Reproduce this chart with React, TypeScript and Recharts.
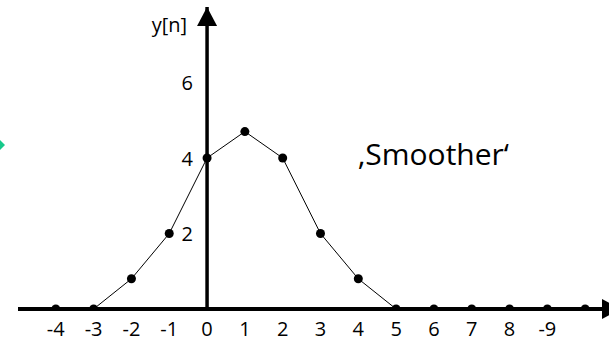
import {
  LineChart,
  Line,
  XAxis,
  YAxis,
  ReferenceLine,
  ReferenceDot,
} from "recharts";

// sample index n and the smoothed output y[n]
const nValues = [-4, -3, -2, -1, 0, 1, 2, 3, 4, 5, 6, 7, 8, 9, 10];
const yValues = [0, 0, 0.8, 2, 4, 4.7, 4, 2, 0.8, 0, 0, 0, 0, 0, 0];

// tick marks along n (the last one is printed as "-9")
const xTicks = [-4, -3, -2, -1, 0, 1, 2, 3, 4, 5, 6, 7, 8, 9];
const xTickLabels = ["-4", "-3", "-2", "-1", "0", "1", "2", "3", "4", "5", "6", "7", "8", "-9"];
const yTicks = [2, 4, 6];

const X_MIN = -5;
const X_MAX = 10.63;
const Y_MAX = 8;

const FONT = "'Open Sans', sans-serif";

const data = nValues.map((n, i) => ({ n, y: yValues[i] }));

const yTickShape = (label: string) => (p: any) => (
  <text
    x={p.cx - 14}
    y={p.cy}
    textAnchor="end"
    dominantBaseline="central"
    fontSize={20}
    fontFamily={FONT}
    fill="#000"
  >
    {label}
  </text>
);

const upArrow = (p: any) => (
  <g>
    <polygon
      points={`${p.cx},${p.cy} ${p.cx - 10},${p.cy + 19} ${p.cx + 10},${p.cy + 19}`}
      fill="#000"
    />
    <text
      x={p.cx - 20}
      y={p.cy + 25}
      textAnchor="end"
      fontSize={20}
      fontFamily={FONT}
      fill="#000"
    >
      y[n]
    </text>
  </g>
);

const rightArrow = (p: any) => (
  <polygon
    points={`${p.cx - 7},${p.cy - 10} ${p.cx + 12},${p.cy} ${p.cx - 7},${p.cy + 10}`}
    fill="#000"
  />
);

export default function App() {
  return (
    <div style={{ position: "absolute", left: 0, top: 0, width: 609, height: 341 }}>
      <LineChart
        width={609}
        height={341}
        data={data}
        margin={{ top: 7, right: 0, bottom: 2, left: 18 }}
      >
        <XAxis
          dataKey="n"
          type="number"
          domain={[X_MIN, X_MAX]}
          allowDataOverflow
          ticks={xTicks}
          interval={0}
          tickFormatter={(v) => xTickLabels[xTicks.indexOf(v)]}
          axisLine={false}
          tickLine={false}
          tickMargin={7}
          height={30}
          tick={{ fill: "#000", fontSize: 20, fontFamily: FONT }}
        />
        <YAxis hide type="number" domain={[0, Y_MAX]} allowDataOverflow />
        <ReferenceLine y={0} stroke="#000" strokeWidth={4} />
        <ReferenceLine x={0} stroke="#000" strokeWidth={3.5} />
        {yTicks.map((t) => (
          <ReferenceDot key={t} x={0} y={t} r={0} shape={yTickShape(String(t))} />
        ))}
        <ReferenceDot x={0} y={Y_MAX} r={0} shape={upArrow} />
        <ReferenceDot x={X_MAX} y={0} r={0} shape={rightArrow} />
        <Line
          type="linear"
          dataKey="y"
          stroke="#000"
          strokeWidth={1}
          dot={{ r: 4.5, fill: "#000", stroke: "none" }}
          isAnimationActive={false}
        />
      </LineChart>
      <svg
        width={609}
        height={341}
        style={{ position: "absolute", left: 0, top: 0, pointerEvents: "none" }}
      >
        <polygon points="0,140 5,145 0,150" fill="#17c98b" />
        <text x={358} y={165} fontSize={30} fontFamily={FONT} fill="#000">
          ‚Smoother‘
        </text>
      </svg>
    </div>
  );
}
